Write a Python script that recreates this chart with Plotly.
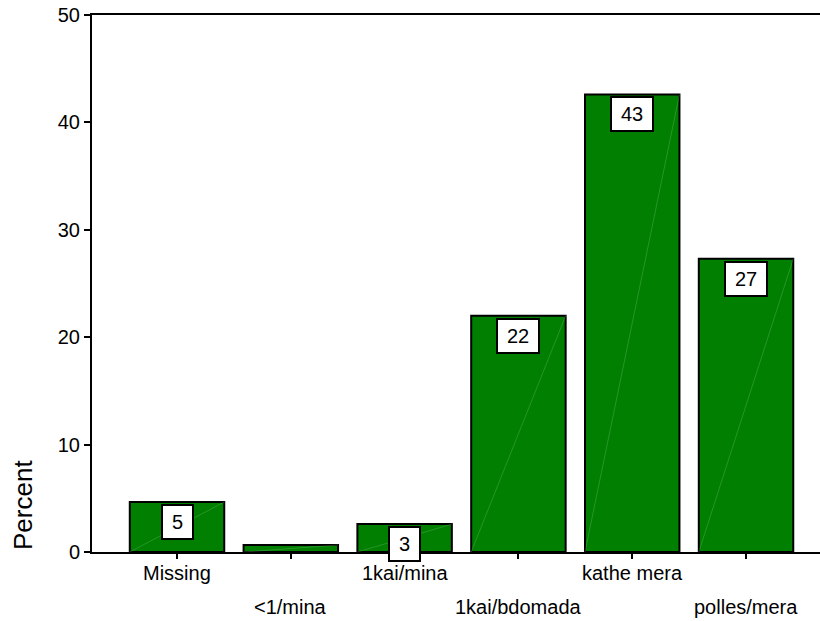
import plotly.graph_objects as go

categories = ["Missing", "<1/mina", "1kai/mina", "1kai/bdomada", "kathe mera", "polles/mera"]
percent = [4.65, 0.65, 2.6, 22.0, 42.6, 27.3]
bar_labels = ["5", "", "3", "22", "43", "27"]
y_ticks = [0, 10, 20, 30, 40, 50]

FONT = "Arial, Liberation Sans, sans-serif"
x_idx = list(range(len(categories)))
BAR_W = 0.83

W, H = 820, 621
L, T, B, R = 92, 15, 69, 0

fig = go.Figure()
fig.add_trace(go.Bar(
    x=x_idx, y=percent, width=BAR_W,
    marker=dict(color="#007f00", line=dict(color="black", width=2)),
    hoverinfo="skip",
))

# faint diagonal rendering streak inside each bar
shapes = []
for i, v in enumerate(percent):
    shapes.append(dict(
        type="line", xref="x", yref="y",
        x0=i - BAR_W / 2, y0=0, x1=i + BAR_W / 2, y1=v,
        line=dict(color="rgba(160,215,160,0.5)", width=0.5),
        layer="above",
    ))

annotations = []
for i, (v, lab) in enumerate(zip(percent, bar_labels)):
    if not lab:
        continue
    annotations.append(dict(
        x=i, y=v, xref="x", yref="y", text=lab, showarrow=False,
        yanchor="top", yshift=-2,
        font=dict(family=FONT, size=20, color="black"),
        bgcolor="white", bordercolor="black", borderwidth=2, borderpad=2,
        width=25 if len(lab) == 1 else 36, height=28,
    ))

# staggered category labels
for i, c in enumerate(categories):
    annotations.append(dict(
        x=i, y=0, xref="x", yref="y", text=c, showarrow=False,
        yanchor="top", yshift=-8 if i % 2 == 0 else -42,
        font=dict(family=FONT, size=20, color="black"),
    ))

annotations.append(dict(
    x=0, y=0, xref="paper", yref="y", xanchor="center", yanchor="bottom",
    text="Percent", textangle=-90, showarrow=False, xshift=23 - L,
    font=dict(family=FONT, size=26, color="black"),
))

fig.update_layout(
    width=W, height=H,
    margin=dict(l=L, r=R, t=T, b=B, pad=0),
    paper_bgcolor="white", plot_bgcolor="white",
    showlegend=False,
    hovermode=False,
    annotations=annotations,
    shapes=shapes,
    xaxis=dict(
        range=[-0.747, 5.65], tickvals=x_idx, ticktext=[""] * len(x_idx),
        showline=True, linecolor="black", linewidth=2, mirror=True,
        ticks="outside", ticklen=5, tickwidth=2, tickcolor="black",
        showgrid=False, zeroline=False,
    ),
    yaxis=dict(
        range=[0, 50], tickvals=y_ticks,
        showline=True, linecolor="black", linewidth=2,
        ticks="outside", ticklen=6, tickwidth=2, tickcolor="black",
        showgrid=False, zeroline=False, ticklabeloverflow="allow",
        tickfont=dict(family=FONT, size=20, color="black"),
    ),
)

fig.write_html(
    "out.html",
    config={"displayModeBar": False},
    post_script="document.body.style.margin='0';document.body.style.overflow='hidden';",
)
